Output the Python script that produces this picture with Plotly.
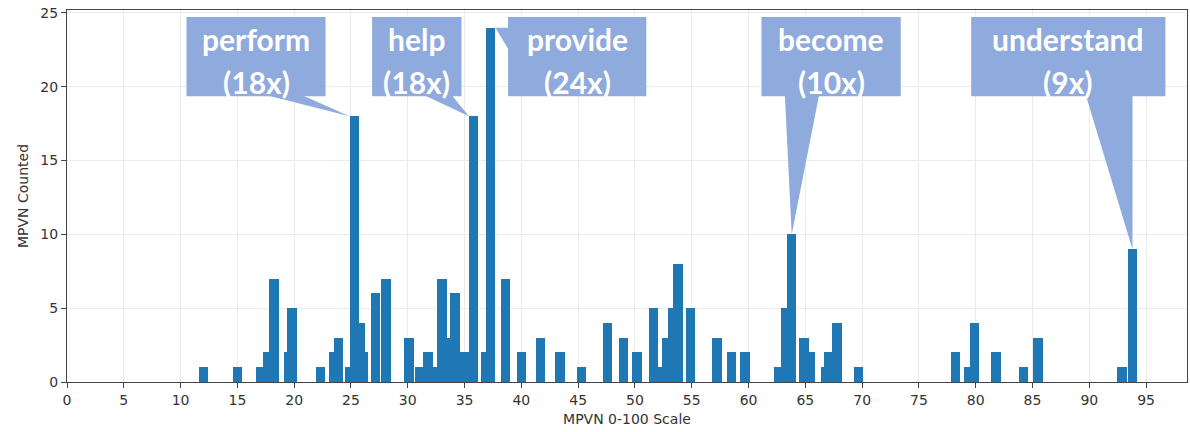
import plotly.graph_objects as go

# ---- data ----
bar_x = [12.0, 15.0, 17.1, 17.7, 18.2, 19.55, 19.8, 22.3, 23.5, 23.9, 24.9, 25.3, 25.8, 26.1,
         27.15, 28.1, 30.1, 31.1, 31.8, 32.65, 33.0, 33.27, 34.18, 35.02, 35.8, 36.9, 37.3,
         38.6, 40.0, 41.7, 43.4, 45.3, 47.6, 49.0, 50.2, 51.65, 51.95, 52.8, 53.3, 53.8,
         54.9, 57.2, 58.5, 59.7, 62.7, 63.3, 63.8, 64.9, 65.4, 66.8, 67.1, 67.8, 69.7,
         78.2, 79.4, 79.9, 81.8, 84.2, 85.5, 92.9, 93.8]
bar_h = [1, 1, 1, 2, 7, 2, 5, 1, 2, 3, 1, 18, 4, 2,
         6, 7, 3, 1, 2, 1, 7, 3, 6, 2, 18, 2, 24,
         7, 2, 3, 2, 1, 4, 3, 2, 5, 1, 3, 5, 8,
         5, 3, 2, 2, 1, 5, 10, 3, 2, 1, 2, 4, 1,
         2, 1, 4, 2, 1, 3, 1, 9]

x_ticks = list(range(0, 100, 5))
y_ticks = [0, 5, 10, 15, 20, 25]

# callouts: word, the bar it points to
callout_words = ["perform", "help", "provide", "become", "understand"]
callout_bar_x = [25.3, 35.8, 37.3, 63.8, 93.8]

BAR_W = 0.84
BAR_COLOR = "#1f77b4"
CALLOUT = "#8FAADC"

fig = go.Figure()
fig.add_trace(go.Bar(
    x=bar_x, y=bar_h, width=BAR_W,
    marker=dict(color=BAR_COLOR, line=dict(width=0)),
    showlegend=False, hoverinfo="x+y",
))

# ---- callout layout (box bounds in axis units, pointer base, tip anchor) ----
box_top, box_bot = 24.73, 19.35
boxes = [
    (10.52, 22.76, "bottom", (17.68, 20.76), "left"),
    (26.86, 34.73, "bottom", (31.5, 33.9), "left"),
    (38.83, 51.0, "side", (24.0, 22.5), "right"),
    (61.14, 73.4, "bottom", (63.2, 66.2), "center"),
    (79.6, 96.7, "bottom", (89.7, 93.8), "center"),
]

shapes = []
annotations = []
for word, bx, (x0, x1, style, base, anchor) in zip(callout_words, callout_bar_x, boxes):
    i = bar_x.index(bx)
    h = bar_h[i]
    if anchor == "left":
        tx = bx - BAR_W / 2
    elif anchor == "right":
        tx = bx + BAR_W / 2
    else:
        tx = bx
    ty = h
    shapes.append(dict(type="rect", xref="x", yref="y", x0=x0, x1=x1, y0=box_bot, y1=box_top,
                       fillcolor=CALLOUT, line=dict(width=0), layer="above"))
    if style == "bottom":
        path = f"M {base[0]},{box_bot + 0.05} L {base[1]},{box_bot + 0.05} L {tx},{ty} Z"
    else:
        path = f"M {x0 + 0.05},{base[0]} L {x0 + 0.05},{base[1]} L {tx},{ty} Z"
    shapes.append(dict(type="path", xref="x", yref="y", path=path,
                       fillcolor=CALLOUT, line=dict(width=0), layer="above"))
    cx = (x0 + x1) / 2
    annotations.append(dict(x=cx, y=23.26, xref="x", yref="y", text=f"<b>{word}</b>",
                            showarrow=False, font=dict(family="Lato", size=30, color="white")))
    annotations.append(dict(x=cx, y=20.35, xref="x", yref="y", text=f"<b>({h}x)</b>",
                            showarrow=False, font=dict(family="Lato", size=30, color="white")))

AX_COL = "#444444"
GRID_COL = "#ebebeb"
fig.update_layout(
    width=1190, height=432,
    margin=dict(l=67, r=3, t=10, b=50),
    plot_bgcolor="white", paper_bgcolor="white",
    font=dict(family="DejaVu Sans", size=14, color="#333333"),
    shapes=shapes, annotations=annotations,
    bargap=0,
)
fig.update_xaxes(
    range=[0, 98.6], tickvals=x_ticks, ticktext=[str(v) for v in x_ticks],
    showgrid=True, gridcolor=GRID_COL, gridwidth=1,
    showline=True, linecolor=AX_COL, linewidth=1.3, mirror=True,
    ticks="outside", ticklen=5, tickcolor=AX_COL, zeroline=False,
    title=dict(text="MPVN 0-100 Scale", font=dict(size=14), standoff=7),
    tickfont=dict(size=14),
)
fig.update_yaxes(
    range=[0, 25.2], tickvals=y_ticks, ticktext=[str(v) for v in y_ticks],
    showgrid=True, gridcolor=GRID_COL, gridwidth=1,
    showline=True, linecolor=AX_COL, linewidth=1.3, mirror=True,
    ticks="outside", ticklen=5, tickcolor=AX_COL, zeroline=False,
    title=dict(text="MPVN Counted", font=dict(size=14), standoff=8),
    tickfont=dict(size=14),
)

fig.write_html("out.html")
